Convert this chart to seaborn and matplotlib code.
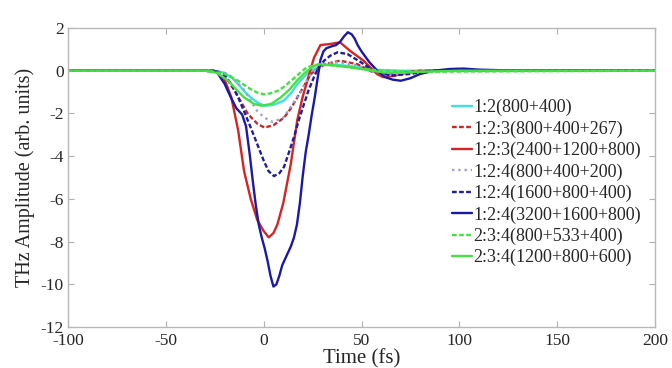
import matplotlib
matplotlib.use("Agg")
import matplotlib.pyplot as plt
import seaborn as sns

# time axes (fs) and amplitudes (arb. units)
t_cyan = [-100, -25, -20, -16, -13, -10, -6.6, -3, 0.5, 5, 10.4, 14, 17.2, 21, 24, 30, 35, 45, 55, 70, 200]
a_cyan = [0, 0, -0.1, -0.35, -0.63, -0.95, -1.25, -1.5, -1.64, -1.6, -1.4, -1.05, -0.63, -0.25, 0, 0.25, 0.3,
          0.2, 0.05, 0, 0]

t_red_dash = [-100, -25, -20, -14.8, -11, -8, -3, 0.5, 5, 10.4, 14, 17.2, 21, 24, 31, 39, 48, 56, 65, 80, 200]
a_red_dash = [0, 0, -0.2, -0.94, -1.55, -2.03, -2.5, -2.66, -2.55, -2.2, -1.75, -1.25, -0.65, -0.16, 0.3,
              0.47, 0.3, -0.08, -0.15, 0, 0]

t_red = [-100, -30, -24, -20, -16.5, -13, -10, -6.6, -3.2, 0, 2.6, 5, 7, 10, 13.8, 17.2, 20,
         22.3, 25.7, 29, 34, 39, 44, 51, 58, 61, 66, 72, 80, 90, 200]
a_red = [0, 0, -0.05, -0.4, -1.25, -2.8, -4.7, -6.0, -7.0, -7.5, -7.8, -7.6, -7.2, -6.2, -4.4, -2.3, -1.2,
         -0.47, 0.6, 1.2, 1.25, 1.33, 0.94, 0.47, -0.16, -0.3, -0.25, -0.12, -0.02, 0, 0]

t_dot = [-100, -25, -18, -14, -10, -6, -3.2, 0.5, 4.6, 10, 13.8, 18, 22, 25, 29, 38, 48, 56, 65, 80, 200]
a_dot = [0, 0, -0.15, -0.5, -0.9, -1.5, -1.9, -2.2, -2.4, -2.2, -1.7, -1.1, -0.47, -0.05, 0.3, 0.4, 0.25,
         -0.05, -0.2, 0, 0]

t_blue_dash = [-100, -25, -20, -16, -13, -10, -6.6, -3, 0, 2.5, 5.3, 8, 10.4, 13, 15.5, 18, 20.6, 23, 25.7,
               28, 30.9, 34, 37.7, 42.8, 49.6, 56, 65, 75, 85, 200]
a_blue_dash = [0, 0, -0.2, -0.7, -1.25, -1.9, -2.66, -3.5, -4.2, -4.7, -4.93, -4.8, -4.5, -3.8, -3.1, -2.3,
               -1.56, -0.9, -0.3, 0.15, 0.47, 0.7, 0.86, 0.78, 0.4, 0, -0.23, -0.15, 0, 0]

t_blue = [-100, -30, -24, -20, -17, -14, -11, -9, -7, -5.5, -4, -2.5, -1, 0.5, 2, 3.5, 5, 6.5, 8, 9.5, 11, 12.5,
          14, 15.5, 17, 18.5, 20, 21.5, 23, 24.5, 26, 27.5, 29, 30.5, 32, 35, 37, 39, 41, 43, 45, 46.5,
          48, 50, 52, 54, 56, 58, 62, 66, 70, 75, 80, 87, 95, 102, 110, 130, 200]
a_blue = [0, 0, -0.05, -0.6, -1.2, -1.75, -2.05, -2.6, -4.0, -5.2, -6.3, -7.2, -7.8, -8.3, -8.9, -9.6, -10.1,
          -10.0, -9.6, -9.1, -8.8, -8.5, -8.2, -7.8, -7.2, -6.2, -4.9, -3.8, -3.0, -2.1, -1.3, -0.4, 0.5,
          0.9, 1.05, 1.15, 1.2, 1.35, 1.6, 1.8, 1.7, 1.5, 1.2, 0.9, 0.65, 0.4, 0.2, 0.0, -0.3, -0.42, -0.47,
          -0.35, -0.15, 0.0, 0.08, 0.1, 0.05, 0, 0]

t_green_dash = [-100, -28, -20, -16, -13, -9, -6, -3, 0, 3.5, 7, 10.5, 14, 18, 22, 28, 35, 45, 60, 80, 200]
a_green_dash = [0, 0, -0.15, -0.32, -0.47, -0.72, -0.9, -1.03, -1.1, -1.06, -0.95, -0.75, -0.47, -0.15, 0.16,
                0.3, 0.25, 0.15, 0, -0.05, 0]

t_green = [-100, -30, -24, -18, -14, -10, -5, -1, 4, 8.7, 13, 17, 21, 25.7, 29, 36, 44, 52, 61, 70, 80, 100, 200]
a_green = [0, 0, -0.1, -0.47, -0.88, -1.25, -1.55, -1.64, -1.55, -1.25, -0.9, -0.47, -0.1, 0.23, 0.3, 0.25,
           0.16, 0.05, -0.08, -0.1, -0.05, 0, 0]

labels = ["1:2(800+400)", "1:2:3(800+400+267)", "1:2:3(2400+1200+800)", "1:2:4(800+400+200)",
          "1:2:4(1600+800+400)", "1:2:4(3200+1600+800)", "2:3:4(800+533+400)", "2:3:4(1200+800+600)"]
times = [t_cyan, t_red_dash, t_red, t_dot, t_blue_dash, t_blue, t_green_dash, t_green]
amps = [a_cyan, a_red_dash, a_red, a_dot, a_blue_dash, a_blue, a_green_dash, a_green]
colors = ["#3ee0e0", "#c42a2a", "#d42424", "#a0a0d0", "#1e1e9e", "#1a1aa6", "#46e046", "#46e046"]
styles = ["-", (0, (2, 1)), "-", ":", (0, (2, 1)), "-", (0, (2, 1)), "-"]

sns.set_style("ticks")
plt.rcParams["font.family"] = ["Liberation Serif", "DejaVu Serif"]
plt.rcParams["axes.unicode_minus"] = False

fig = plt.figure(figsize=(6.72, 3.68), dpi=100)
ax = fig.add_axes([0.101, 0.111, 0.874, 0.813])

for t, a, lab, c, ls in zip(times, amps, labels, colors, styles):
    sns.lineplot(x=t, y=a, ax=ax, color=c, linestyle=ls, linewidth=1.7, label=lab, sort=False)

ax.set_xlim(-100, 200)
ax.set_ylim(-12, 2)
ax.set_xticks(range(-100, 201, 50))
ax.set_yticks(range(-12, 3, 2))
ax.set_xlabel("Time (fs)", fontsize=15, labelpad=0)
ax.set_ylabel("THz Amplitude (arb. units)", fontsize=14.5, labelpad=4)
ax.tick_params(direction="in", length=4, width=0.8, color="#b0b0b0", labelsize=12.5,
               top=True, right=True, pad=3)
ax.tick_params(axis="x", pad=4)
for s in ax.spines.values():
    s.set_color("#b8b8b8")
    s.set_linewidth(1.0)

ax.legend(loc="center left", bbox_to_anchor=(0.654, 0.483), frameon=False, fontsize=13,
          handlelength=1.1, handletextpad=0.1, labelspacing=0.23, borderaxespad=0, borderpad=0)

fig.savefig("out.png", dpi=100)
